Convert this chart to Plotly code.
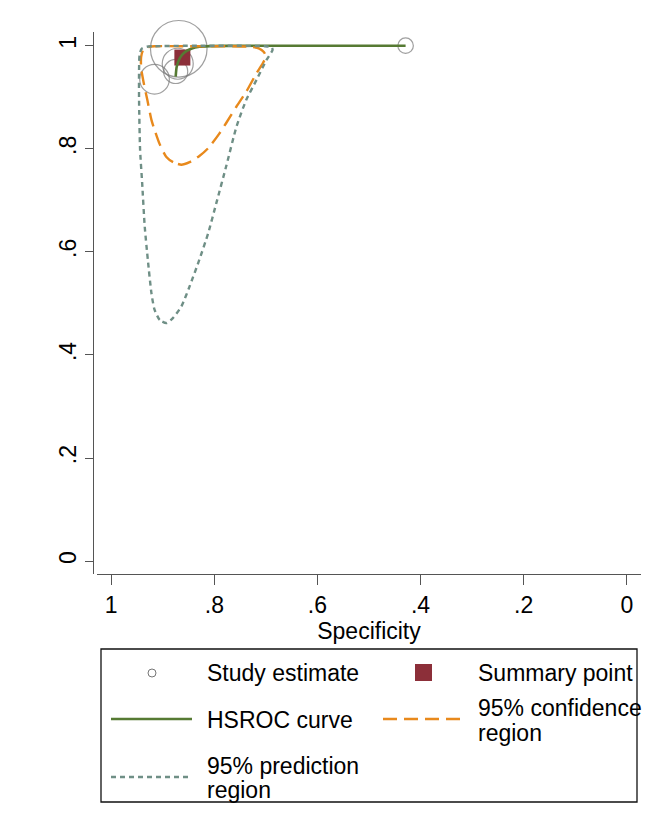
import plotly.graph_objects as go

# ---- data -------------------------------------------------------------
study_spec = [0.869, 0.916, 0.871, 0.875, 0.429]
study_sens = [0.994, 0.935, 0.965, 0.950, 1.000]
study_weight = [160, 44, 48, 29, 12]

summary_spec = [0.862]
summary_sens = [0.977]

hsroc_spec = [0.875, 0.873, 0.867, 0.858, 0.845, 0.829, 0.809, 0.780, 0.720, 0.650, 0.550, 0.429]
hsroc_sens = [0.940, 0.959, 0.976, 0.987, 0.994, 0.998, 0.9992, 0.9996, 0.9998, 0.9999, 0.9999, 1.000]

conf_spec = [0.864, 0.880, 0.893, 0.906, 0.916, 0.922, 0.930, 0.937, 0.942, 0.942, 0.938, 0.930,
             0.916, 0.867, 0.790, 0.731, 0.714, 0.704, 0.700, 0.706, 0.718, 0.738, 0.757, 0.777,
             0.790, 0.812, 0.829, 0.848, 0.864]
conf_sens = [0.769, 0.774, 0.784, 0.809, 0.837, 0.856, 0.895, 0.928, 0.957, 0.978, 0.992, 0.997,
             0.999, 0.999, 0.999, 0.998, 0.995, 0.988, 0.979, 0.966, 0.947, 0.911, 0.882, 0.850,
             0.830, 0.801, 0.786, 0.774, 0.769]

pred_spec = [0.893, 0.906, 0.916, 0.922, 0.929, 0.935, 0.940, 0.944, 0.946, 0.946, 0.945, 0.941,
             0.931, 0.916, 0.829, 0.702, 0.689, 0.687, 0.699, 0.718, 0.738, 0.757, 0.777, 0.796,
             0.812, 0.829, 0.848, 0.864, 0.880, 0.893]
pred_sens = [0.462, 0.468, 0.488, 0.520, 0.585, 0.649, 0.734, 0.798, 0.895, 0.953, 0.982, 0.994,
             0.998, 0.999, 1.000, 0.999, 0.997, 0.992, 0.972, 0.934, 0.895, 0.843, 0.766, 0.695,
             0.636, 0.585, 0.533, 0.494, 0.472, 0.462]

tick_vals = [1, 0.8, 0.6, 0.4, 0.2, 0]
tick_text = ["1", ".8", ".6", ".4", ".2", "0"]

# ---- styling ----------------------------------------------------------
FONT = "Liberation Sans, Arial, sans-serif"
FS = 23
W, H = 657, 830
C_STUDY = "#767676"
C_SUMMARY = "#8C2F39"
C_CURVE = "#567A33"
C_CONF = "#E8891C"
C_PRED = "#6F8F86"
DASH_CONF = "14px,7px"
DASH_PRED = "5px,4px"


def px(x):
    return x / W


def py(y):
    return 1 - y / H


fig = go.Figure()

fig.add_trace(go.Scatter(
    x=study_spec, y=study_sens, mode="markers", cliponaxis=False,
    marker=dict(symbol="circle-open", size=study_weight, sizemode="area", sizeref=0.1,
                color=C_STUDY, line=dict(width=1.2, color=C_STUDY)),
    name="Study estimate", showlegend=False))

fig.add_trace(go.Scatter(
    x=summary_spec, y=summary_sens, mode="markers", cliponaxis=False,
    marker=dict(symbol="square", size=16, color=C_SUMMARY),
    name="Summary point", showlegend=False))

fig.add_trace(go.Scatter(
    x=hsroc_spec, y=hsroc_sens, mode="lines", cliponaxis=False,
    line=dict(color=C_CURVE, width=2.6, shape="spline", smoothing=0.6),
    name="HSROC curve", showlegend=False))

fig.add_trace(go.Scatter(
    x=conf_spec, y=conf_sens, mode="lines", cliponaxis=False,
    line=dict(color=C_CONF, width=2.4, dash=DASH_CONF, shape="spline", smoothing=0.6),
    name="95% confidence region", showlegend=False))

fig.add_trace(go.Scatter(
    x=pred_spec, y=pred_sens, mode="lines", cliponaxis=False,
    line=dict(color=C_PRED, width=2.4, dash=DASH_PRED, shape="spline", smoothing=0.6),
    name="95% prediction region", showlegend=False))

# ---- legend box drawn by hand ------------------------------------------
shapes = [
    dict(type="rect", xref="paper", yref="paper",
         x0=px(101), x1=px(637), y0=py(802), y1=py(649),
         line=dict(color="#111111", width=1.3), fillcolor="rgba(0,0,0,0)"),
    dict(type="circle", xref="paper", yref="paper",
         x0=px(148), x1=px(156), y0=py(677), y1=py(669),
         line=dict(color=C_STUDY, width=1)),
    dict(type="rect", xref="paper", yref="paper",
         x0=px(415), x1=px(432), y0=py(681), y1=py(664),
         line=dict(width=0), fillcolor=C_SUMMARY),
    dict(type="line", xref="paper", yref="paper",
         x0=px(111), x1=px(192), y0=py(719), y1=py(719),
         line=dict(color=C_CURVE, width=2.6)),
    dict(type="line", xref="paper", yref="paper",
         x0=px(383), x1=px(463), y0=py(719), y1=py(719),
         line=dict(color=C_CONF, width=2.4, dash=DASH_CONF)),
    dict(type="line", xref="paper", yref="paper",
         x0=px(111), x1=px(192), y0=py(777), y1=py(777),
         line=dict(color=C_PRED, width=2.4, dash=DASH_PRED)),
]

legend_text = [
    ("Study estimate", 205, 673),
    ("Summary point", 476, 673),
    ("HSROC curve", 205, 720),
    ("95% confidence", 476, 708),
    ("region", 476, 733),
    ("95% prediction", 205, 766),
    ("region", 205, 790),
]
annotations = [
    dict(text=t, x=px(x), y=py(y), xref="paper", yref="paper",
         xanchor="left", yanchor="middle", showarrow=False,
         font=dict(family=FONT, size=FS, color="#000000"))
    for t, x, y in legend_text
]

fig.update_layout(
    width=W, height=H,
    margin=dict(l=0, r=0, t=0, b=0),
    paper_bgcolor="white", plot_bgcolor="white",
    font=dict(family=FONT, size=FS, color="#000000"),
    shapes=shapes, annotations=annotations,
    showlegend=False,
    xaxis=dict(
        domain=[px(97.3), px(640.7)],
        range=[1.027, -0.027],
        tickvals=tick_vals, ticktext=tick_text,
        ticks="outside", ticklen=10, tickwidth=1, tickcolor="#555555",
        showline=True, linecolor="#555555", linewidth=1.2,
        showgrid=False, zeroline=False,
        title=dict(text="Specificity", font=dict(family=FONT, size=FS), standoff=2),
        tickfont=dict(family=FONT, size=FS),
        anchor="y",
    ),
    yaxis=dict(
        domain=[py(574), py(32.3)],
        range=[-0.025, 1.026],
        tickvals=tick_vals, ticktext=tick_text,
        ticks="outside", ticklen=8, tickwidth=1, tickcolor="#555555",
        tickangle=-90,
        showline=True, linecolor="#555555", linewidth=1.2,
        showgrid=False, zeroline=False,
        tickfont=dict(family=FONT, size=FS),
        anchor="free", position=px(93.3),
    ),
)

fig.write_html("out.html")
